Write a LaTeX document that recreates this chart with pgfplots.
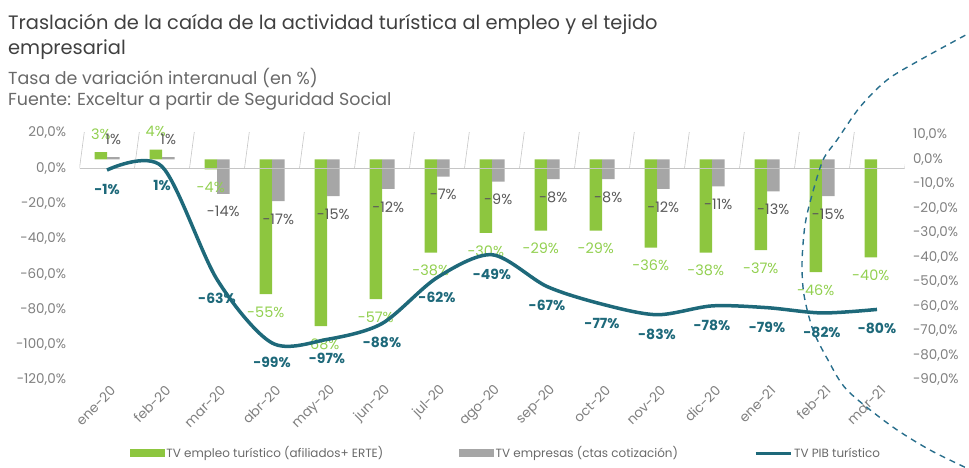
\documentclass[border=0pt]{standalone}
\usepackage{pgfplots}
\pgfplotsset{compat=1.18}
\usepackage{fontspec}
\setmainfont{Poppins}

\definecolor{verde}{RGB}{141,198,63}
\definecolor{verdetxt}{RGB}{146,208,80}
\definecolor{gris}{RGB}{166,166,166}
\definecolor{gristxt}{RGB}{89,89,89}
\definecolor{pib}{RGB}{30,105,122}
\definecolor{titulo}{RGB}{64,64,64}
\definecolor{sub}{RGB}{105,105,105}
\definecolor{ejes}{RGB}{128,128,128}
\definecolor{arco}{RGB}{40,110,140}

\pgfplotstableread{
x empleo empresas pib
0  3   1   -1
1  4   1    1
2  -4  -14 -63
3  -55 -17 -99
4  -68 -15 -97
5  -57 -12 -88
6  -38 -7  -62
7  -30 -9  -49
8  -29 -8  -67
9  -29 -8  -77
10 -36 -12 -83
11 -38 -11 -78
12 -37 -13 -79
13 -46 -15 -82
14 -40 nan -80
}\datos

\pgfplotsset{
  /pgf/number format/assume math mode=true,
  base/.style={
    at={(79.5bp,88bp)}, anchor=south west,
    scale only axis, width=825bp, height=247bp,
    xmin=-0.5, xmax=14.5,
    axis line style={draw=none},
    major tick length=0pt,
    tick label style={font=\fontsize{13.5}{15}\selectfont, text=ejes},
  },
  etiq/.style={
    nodes near coords={\pgfmathprintnumber[fixed,precision=0]{\pgfplotspointmeta}\%},
    point meta=y,
    every node near coord/.append style={font=\fontsize{14.5}{16}\selectfont, inner sep=1bp, outer ysep=11.5bp},
  },
}

\begin{document}
\begin{tikzpicture}
\path[use as bounding box] (0bp,0bp) rectangle (969bp,468bp);

\node[anchor=base west, inner sep=0, text=titulo, font=\fontsize{19.5}{22}\selectfont] at (8bp,438bp)
  {Traslación de la caída de la actividad turística al empleo y el tejido};
\node[anchor=base west, inner sep=0, text=titulo, font=\fontsize{19.5}{22}\selectfont] at (8bp,413bp)
  {empresarial};
\node[anchor=base west, inner sep=0, text=sub, font=\fontsize{17.5}{20}\selectfont] at (8bp,383bp)
  {Tasa de variación interanual (en \%)};
\node[anchor=base west, inner sep=0, text=sub, font=\fontsize{17.5}{20}\selectfont] at (8bp,362bp)
  {Fuente: Exceltur a partir de Seguridad Social};

% barras: eje derecho
\begin{axis}[
  base,
  hide x axis,
  ymin=-90, ymax=10.8,
  ytick={-90,-80,...,10},
  yticklabel pos=right,
  yticklabel={\pgfmathprintnumber[fixed,fixed zerofill,precision=1,use comma]{\tick}\%},
  yticklabel style={anchor=west, xshift=5bp},
  ybar, bar width=12.5bp,
]
\addplot[fill=verde, draw=none, bar shift=-6.25bp, etiq,
  every node near coord/.append style={text=verdetxt}]
  table[x=x, y=empleo] {\datos};
\addplot[fill=gris, draw=none, bar shift=6.25bp, etiq,
  every node near coord/.append style={text=gristxt}]
  table[x=x, y=empresas] {\datos};
\end{axis}

% PIB: eje izquierdo
\begin{axis}[
  base,
  ymin=-120, ymax=20,
  ytick={-120,-100,...,20},
  yticklabel={\pgfmathprintnumber[fixed,fixed zerofill,precision=1,use comma]{\tick}\%},
  yticklabel style={anchor=east, xshift=-10bp},
  xtick={0,...,14},
  xticklabels={ene-20,feb-20,mar-20,abr-20,may-20,jun-20,jul-20,ago-20,sep-20,oct-20,nov-20,dic-20,ene-21,feb-21,mar-21},
  xticklabel style={rotate=45, anchor=east, yshift=-10bp, xshift=2bp},
  legend columns=3,
  legend style={at={(0.517,-0.296)}, anchor=center, draw=none, fill=none,
    font=\fontsize{12}{14}\selectfont, text=sub,
    /tikz/every even column/.append style={column sep=74bp},
    inner sep=0pt},
]
\draw[color=gray!45, line width=0.8bp] (axis cs:-0.5,0) -- (axis cs:14.5,0);
\pgfplotsinvokeforeach{-0.5,0.5,...,14.5}{
  \draw[color=gray!45, line width=0.6bp] (axis cs:#1,0) -- ++(0,-4bp);
}
\addlegendimage{legend image code/.code={\fill[verde] (0bp,-3.5bp) rectangle (34bp,3.5bp);}}
\addlegendimage{legend image code/.code={\fill[gris] (0bp,-3.5bp) rectangle (34bp,3.5bp);}}
\addlegendimage{legend image code/.code={\draw[pib, line width=3bp] (0bp,0bp) -- (35bp,0bp);}}
\addplot[pib, line width=3.5bp, smooth, no markers, etiq,
  every node near coord/.append style={anchor=north, text=pib, font=\fontsize{14}{16}\selectfont\bfseries, outer ysep=13bp}]
  table[x=x, y=pib] {\datos};
\legend{TV empleo turístico (afiliados+ ERTE), TV empresas (ctas cotización), TV PIB turístico}
\end{axis}

% arco discontinuo
\draw[arco, line width=1.4bp, dash pattern=on 6bp off 5bp]
  plot[smooth] coordinates {(975bp,438bp) (920bp,408bp) (887bp,388bp) (860bp,361bp) (837bp,328bp) (823bp,308bp)
    (812bp,273bp) (805bp,243bp) (802bp,205bp) (804bp,173bp) (813bp,138bp) (828bp,108bp) (847bp,78bp) (890bp,43bp) (930bp,18bp) (975bp,-4bp)};
\end{tikzpicture}
\end{document}
